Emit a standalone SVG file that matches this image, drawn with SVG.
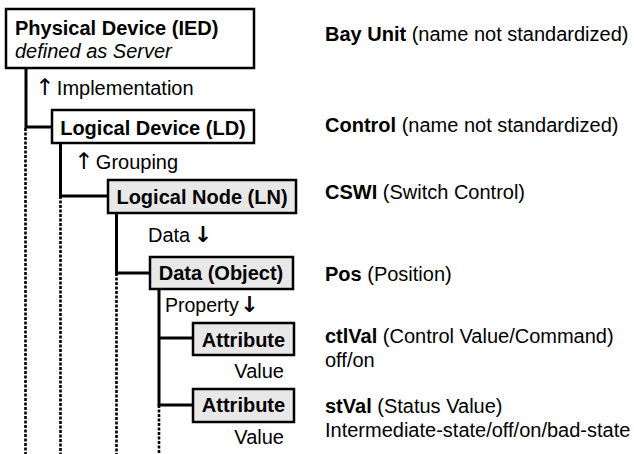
<svg xmlns="http://www.w3.org/2000/svg" width="634" height="454" viewBox="0 0 634 454">
<style>
text{font-family:"Liberation Sans",Arial,sans-serif;font-size:20px;fill:#000}
.b{font-weight:bold}
.i{font-style:italic}
.mid{text-anchor:middle}
.ar{font-family:"DejaVu Sans",sans-serif;font-size:23px;letter-spacing:-3px}
.ard{font-family:"DejaVu Sans",sans-serif;font-size:22px;font-weight:bold}
.box{stroke:#000;stroke-width:2.5}
.w{fill:#fff}
.g{fill:#e8e8e8}
.solid{stroke:#000;stroke-width:3;fill:none}
.dot{stroke:#000;stroke-width:2.6;stroke-dasharray:3 1.5;fill:none}
</style>
<rect width="634" height="454" fill="#fff"/>
<g id="connectors">
<path class="dot" d="M25.5 128V454M60.5 196V454M116.5 273V454M159 405V454"/>
<path class="solid" d="M26 67V127H52M60.5 143V196H108M116.5 213V273H150M159 289V405H193M159 338H193"/>
</g>
<g id="labels">
<text x="35" y="95"><tspan class="ar">↑</tspan> Implementation</text>
<text x="74" y="169"><tspan class="ar">↑</tspan> Grouping</text>
<text x="148" y="242">Data <tspan class="ard" dx="-2">↓</tspan></text>
<text x="165" y="312"><tspan font-size="19.5px">Property</tspan> <tspan class="ard" dx="-4">↓</tspan></text>
<text x="284" y="378" text-anchor="end">Value</text>
<text x="284" y="444" text-anchor="end">Value</text>
</g>
<g id="pd">
<rect class="box w" x="6" y="9" width="248" height="59"/>
<text class="b" x="15" y="35">Physical Device (IED)</text>
<text class="i" x="15" y="58">defined as Server</text>
</g>
<g id="ld">
<rect class="box w" x="52" y="110" width="202" height="33"/>
<text class="b mid" x="153" y="135">Logical Device (LD)</text>
</g>
<g id="ln">
<rect class="box g" x="108" y="180" width="188" height="33"/>
<text class="b mid" x="202" y="204">Logical Node (LN)</text>
</g>
<g id="do">
<rect class="box g" x="150" y="257" width="143" height="32"/>
<text class="b mid" x="221" y="280">Data (Object)</text>
</g>
<g id="attr1">
<rect class="box g" x="193" y="323" width="101" height="32"/>
<text class="b mid" x="243.5" y="347">Attribute</text>
</g>
<g id="attr2">
<rect class="box g" x="193" y="389" width="101" height="33"/>
<text class="b mid" x="243.5" y="412">Attribute</text>
</g>
<g id="descriptions">
<text x="325" y="41"><tspan class="b">Bay Unit</tspan> (name not standardized)</text>
<text x="325" y="132"><tspan class="b">Control</tspan> (name not standardized)</text>
<text x="325" y="199"><tspan class="b">CSWI</tspan> (Switch Control)</text>
<text x="325" y="281"><tspan class="b">Pos</tspan> (Position)</text>
<text x="325" y="343"><tspan class="b">ctlVal</tspan> (Control Value/Command)</text>
<text x="325" y="367">off/on</text>
<text x="325" y="413"><tspan class="b">stVal</tspan> (Status Value)</text>
<text x="325" y="437">Intermediate-state/off/on/bad-state</text>
</g>
</svg>
